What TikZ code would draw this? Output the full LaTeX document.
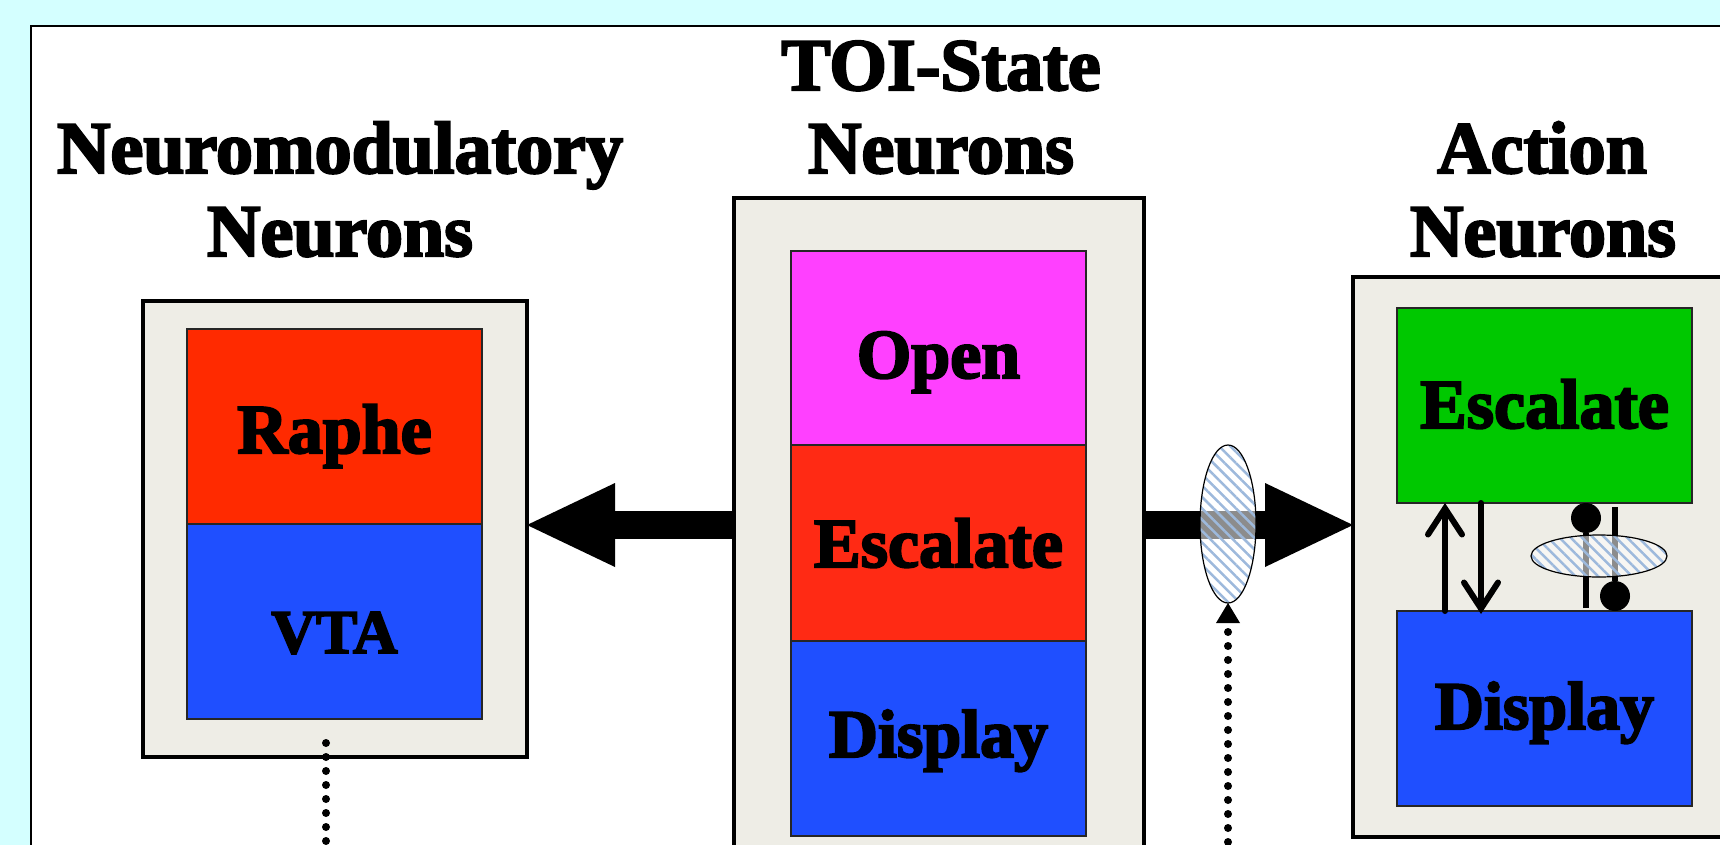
\documentclass[tikz,border=0pt]{standalone}
\usepackage{fontspec}
\newfontfamily\heavy{Liberation Serif Bold}[FakeBold=3]
\usetikzlibrary{arrows.meta,shapes.geometric,patterns.meta}
\definecolor{bgcyan}{HTML}{D4FFFF}
\definecolor{beige}{HTML}{EEEDE6}
\definecolor{nred}{HTML}{FF2A00}
\definecolor{nred2}{HTML}{FF2A14}
\definecolor{nblue}{HTML}{1F4FFF}
\definecolor{nmag}{HTML}{FF40FF}
\definecolor{ngreen}{HTML}{00C800}
\definecolor{hatch}{HTML}{9DB9DC}
\tikzset{
  outerbox/.style={draw=black, line width=4pt, fill=beige, rectangle, outer sep=0pt, inner sep=0pt},
  innerbox/.style={draw=black!85, line width=1.3pt, rectangle, outer sep=0pt, inner sep=0pt, minimum width=295pt},
  title/.style={font=\heavy\fontsize{74}{80}\selectfont, anchor=base, inner sep=0pt},
  boxtext/.style={font=\heavy\fontsize{70}{78}\selectfont, anchor=base, inner sep=0pt},
  bigarrow/.style={line width=28pt, -{Triangle[length=88pt,width=84pt,line width=0pt]}},
  dotline/.style={line width=8pt, line cap=round, dash pattern=on 0pt off 14pt},
  dotarrow/.style={dotline, -{Triangle[length=20pt,width=24pt,line width=0pt]}},
  smallarrow/.style={line width=6pt, line cap=round, -{Straight Barb[length=26pt,width=34pt,line cap=round]}},
  ballline/.style={line width=6pt, -{Circle[length=30pt,width=30pt,line width=0pt]}},
  gate/.style={ellipse, draw=black, line width=1.2pt, inner sep=0pt, outer sep=0pt,
    preaction={fill=white, fill opacity=0.55},
    pattern={Lines[angle=-45,distance=8pt,line width=2.5pt]}, pattern color=hatch}
}
\begin{document}
\begin{tikzpicture}[x=1pt,y=-1pt]
\useasboundingbox (0,0) rectangle (1720,845);
\clip (0,0) rectangle (1720,845);
\fill[bgcyan] (0,0) rectangle (1720,845);
\draw[fill=white, line width=1.5pt] (31,26) rectangle (1780,900);

% titles
\node[title] (t1) at (941,90) {TOI-State};
\node[title] (t2) at (941,173) {Neurons};
\node[title] (t3) at (340,173) {Neuromodulatory};
\node[title] (t4) at (340,256) {Neurons};
\node[title] (t5) at (1542,173) {Action};
\node[title] (t6) at (1543,256) {Neurons};

% outer boxes
\node[outerbox, minimum width=384pt, minimum height=456pt] (lbox) at (335,529) {};
\node[outerbox, minimum width=410pt, minimum height=702pt] (mbox) at (939,549) {};
\node[outerbox, minimum width=407pt, minimum height=560pt] (rbox) at (1556.5,557) {};

% inner boxes
\node[innerbox, fill=nred, minimum height=195pt] (raphe) at (334.5,426.5) {};
\node[innerbox, fill=nblue, minimum height=195pt] (vta) at (334.5,621.5) {};
\node[innerbox, fill=nmag, minimum height=194pt] (open) at (938.5,348) {};
\node[innerbox, fill=nred2, minimum height=196pt] (esc1) at (938.5,543) {};
\node[innerbox, fill=nblue, minimum height=195pt] (disp1) at (938.5,738.5) {};
\node[innerbox, fill=ngreen, minimum height=195pt] (esc2) at (1544.5,405.5) {};
\node[innerbox, fill=nblue, minimum height=195pt] (disp2) at (1544.5,708.5) {};

% box texts
\node[boxtext] (raphet) at (334.5,453) {Raphe};
\node[boxtext, font=\heavy\fontsize{62}{70}\selectfont] (vtat) at (334.5,653) {VTA};
\node[boxtext] (opent) at (938.5,378) {Open};
\node[boxtext] (esc1t) at (938.5,567) {Escalate};
\node[boxtext, font=\heavy\fontsize{68}{76}\selectfont] (disp1t) at (938.5,757) {Display};
\node[boxtext] (esc2t) at (1544.5,428) {Escalate};
\node[boxtext, font=\heavy\fontsize{68}{76}\selectfont] (disp2t) at (1544.5,729) {Display};

% big arrows
\coordinate (ay) at (0,525);
\draw[bigarrow] (mbox.west |- ay) -- (lbox.east |- ay);
\draw[bigarrow] (mbox.east |- ay) -- (rbox.west |- ay);

% arrows inside action box
\coordinate (c1) at (1445,0);
\coordinate (c2) at (1481,0);
\coordinate (c3) at (1586,0);
\coordinate (c4) at (1615,0);
\draw[smallarrow] (disp2.north -| c1) -- (esc2.south -| c1);
\draw[smallarrow] (esc2.south -| c2) -- ([yshift=-3pt]disp2.north -| c2);
\draw[ballline, shorten <=3pt] (disp2.north -| c3) -- (esc2.south -| c3);
\draw[ballline, shorten <=4pt] (esc2.south -| c4) -- (disp2.north -| c4);

% gates
\node[gate, minimum width=56pt, minimum height=158pt] (g1) at (1228,524) {};
\node[gate, minimum width=136pt, minimum height=42pt] (g2) at (1599,556) {};

% dotted lines
\coordinate (d1) at (1228,870);
\draw[dotarrow] (d1) -- (g1.south);
\coordinate (d2) at (326,870);
\draw[dotline] ([yshift=14pt]lbox.south -| d2) -- (d2);
\end{tikzpicture}
\end{document}
